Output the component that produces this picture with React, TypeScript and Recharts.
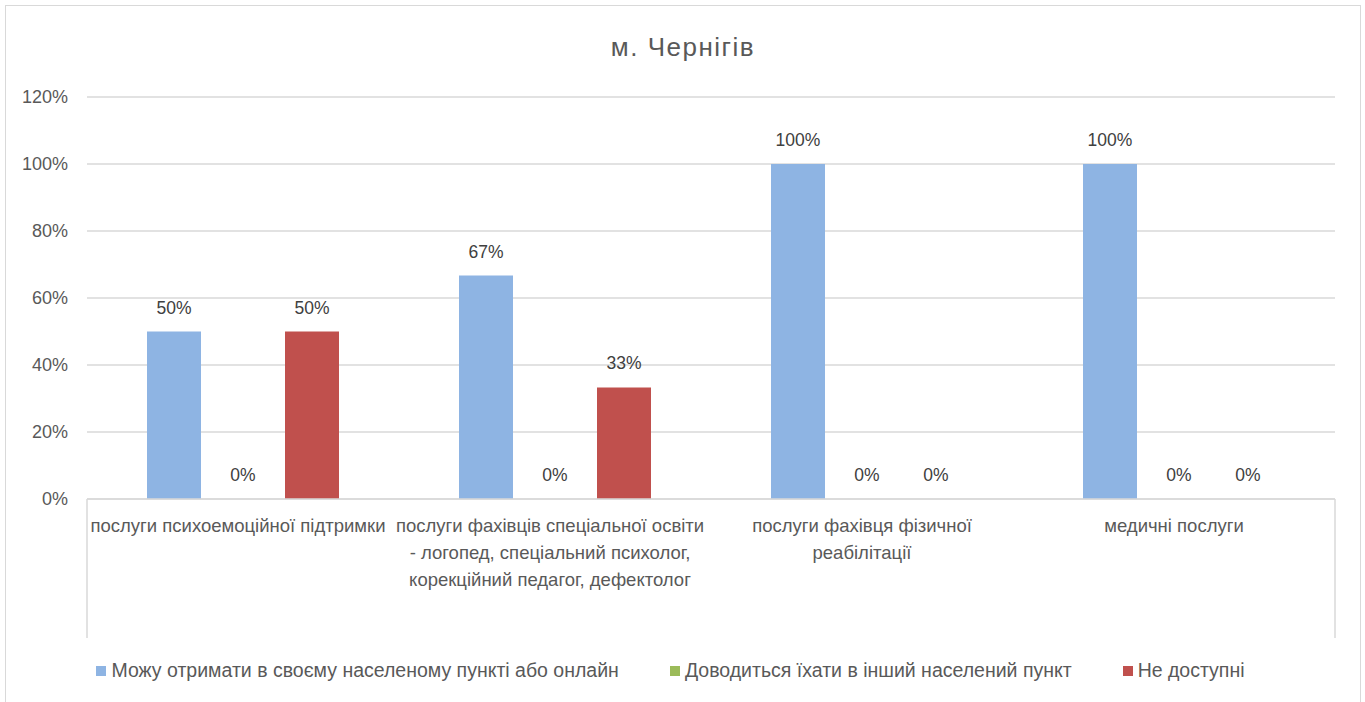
import { BarChart, Bar, XAxis, YAxis, CartesianGrid, Legend, LabelList } from 'recharts';

const categories = [
  'послуги психоемоційної підтримки',
  'послуги фахівців спеціальної освіти\n- логопед, спеціальний психолог,\nкорекційний педагог, дефектолог',
  'послуги фахівця фізичної\nреабілітації',
  'медичні послуги',
];
const local = [0.5, 0.667, 1, 1];
const travel = [0, 0, 0, 0];
const unavailable = [0.5, 0.333, 0, 0];
const yTicks = [0, 0.2, 0.4, 0.6, 0.8, 1, 1.2];

const seriesKeys = ['local', 'travel', 'unavailable'];
const seriesNames: Record<string, string> = {
  local: 'Можу отримати в своєму населеному пункті або онлайн',
  travel: 'Доводиться їхати в інший населений пункт',
  unavailable: 'Не доступні',
};

const data = categories.map((name, i) => ({
  name,
  local: local[i],
  travel: travel[i],
  unavailable: unavailable[i],
}));

const FONT = '"Liberation Sans", Arial, sans-serif';
const CHART_W = 1354;
const CHART_H = 696;
const MARGIN = { top: 91, right: 25, left: 0, bottom: 20 };
const Y_W = 81;
const BAND = (CHART_W - Y_W - MARGIN.right - MARGIN.left) / categories.length;

const pct = (v: any) => `${Math.round(Number(v) * 100)}%`;

function CategoryTick(props: any) {
  const { x, y, payload, index } = props;
  const lines = String(payload.value).split('\n');
  return (
    <g>
      {index === 0 && (
        <line x1={x - BAND / 2} x2={x - BAND / 2} y1={y} y2={y + 139} stroke="#d9d9d9" strokeWidth={1.5} />
      )}
      {index === categories.length - 1 && (
        <line x1={x + BAND / 2} x2={x + BAND / 2} y1={y} y2={y + 139} stroke="#d9d9d9" strokeWidth={1.5} />
      )}
      <text x={x - 5} y={y + 27} textAnchor="middle" fill="#595959" fontSize={18.5} fontFamily={FONT}>
        {lines.map((l, i) => (
          <tspan key={i} x={x - 5} dy={i === 0 ? 6 : 27}>
            {l}
          </tspan>
        ))}
      </text>
    </g>
  );
}

function LegendContent(props: any) {
  const payload = [...(props.payload || [])].sort(
    (a: any, b: any) => seriesKeys.indexOf(a.dataKey) - seriesKeys.indexOf(b.dataKey)
  );
  return (
    <div style={{ display: 'flex', justifyContent: 'center', fontFamily: FONT, fontSize: 19.5, color: '#595959' }}>
      {payload.map((p: any, i: number) => (
        <div key={p.value} style={{ display: 'flex', alignItems: 'center', marginRight: i < payload.length - 1 ? 51 : 0 }}>
          <span style={{ width: 10, height: 10, background: p.color, display: 'inline-block', marginRight: 5 }} />
          <span>{p.value}</span>
        </div>
      ))}
    </div>
  );
}

export default function App() {
  return (
    <div
      style={{
        position: 'absolute',
        left: 5,
        top: 5,
        width: CHART_W,
        height: CHART_H + 10,
        border: '1.5px solid #d9d9d9',
        background: '#fff',
      }}
    >
      <div
        style={{
          position: 'absolute',
          top: 26,
          width: '100%',
          textAlign: 'center',
          fontFamily: FONT,
          fontSize: 26,
          color: '#595959',
          letterSpacing: 1.5,
        }}
      >
        м. Чернігів
      </div>
      <BarChart
        width={CHART_W}
        height={CHART_H}
        data={data}
        margin={MARGIN}
        barCategoryGap={60}
        barGap={15}
      >
        <CartesianGrid vertical={false} stroke="#d9d9d9" strokeWidth={1.5} />
        <XAxis
          dataKey="name"
          height={160}
          tickLine={false}
          tickSize={0}
          tickMargin={0}
          axisLine={{ stroke: '#d9d9d9', strokeWidth: 1.5 }}
          tick={<CategoryTick />}
          interval={0}
        />
        <YAxis
          width={Y_W}
          domain={[0, 1.2]}
          ticks={yTicks}
          tickFormatter={pct}
          axisLine={false}
          tickLine={false}
          tickSize={0}
          tickMargin={19}
          tick={{ fill: '#595959', fontSize: 18, fontFamily: FONT }}
        />
        <Legend verticalAlign="bottom" content={<LegendContent />} />
        {seriesKeys.map((key) => (
          <Bar
            key={key}
            dataKey={key}
            name={seriesNames[key]}
            fill={key === 'local' ? '#8eb4e3' : key === 'travel' ? '#9bbb59' : '#c0504d'}
            minPointSize={0.01}
            isAnimationActive={false}
          >
            <LabelList dataKey={key} position="top" offset={18} formatter={pct} fill="#404040" fontSize={17.5} fontFamily={FONT} />
          </Bar>
        ))}
      </BarChart>
    </div>
  );
}
